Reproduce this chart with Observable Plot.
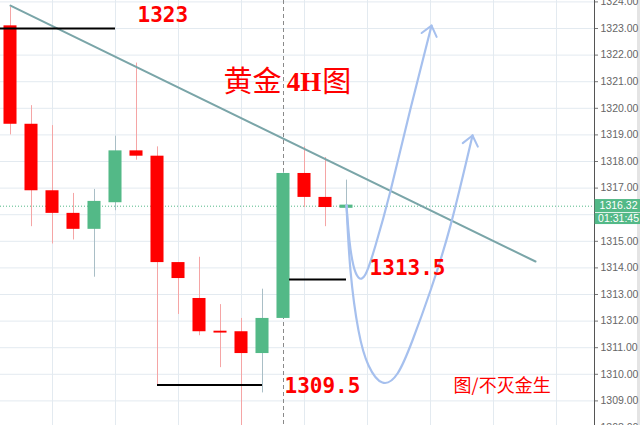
<!DOCTYPE html>
<html><head><meta charset="utf-8">
<script src="https://cdn.jsdelivr.net/npm/d3@7"></script>
<script src="https://cdn.jsdelivr.net/npm/@observablehq/plot@0.6"></script>
<style>
html,body{margin:0;padding:0;background:#fff;}
#wrap{position:relative;width:640px;height:425px;overflow:hidden;}
#edge{position:absolute;left:637px;top:0;width:3px;height:425px;background:#e4e4e4;z-index:0;}
#wrap svg{position:relative;z-index:1;background:transparent;}
</style></head><body><div id="wrap"><div id="edge"></div></div>
<script>
// ---- data ----
const bar   = [0,1,2,3,4,5,6,7,8,9,10,11,12,13,14,15,16];
const open  = [1323.1,1319.4,1316.9,1316.05,1315.45,1316.45,1318.4,1318.2,1314.2,1312.85,1311.62,1311.6,1310.78,1312.1,1317.55,1316.65,1316.24];
const high  = [1323.8,1320.1,1319.35,1316.8,1316.95,1318.95,1321.7,1318.55,1314.2,1314.4,1312.62,1312.1,1313.2,1317.6,1318.55,1318.15,1317.3];
const low   = [1319.0,1315.55,1314.9,1315.05,1313.65,1316.15,1318.05,1309.6,1312.25,1311.45,1310.25,1308.0,1309.3,1312.1,1316.27,1315.55,1316.24];
const close = [1319.4,1316.9,1316.05,1315.45,1316.5,1318.4,1318.2,1314.2,1313.6,1311.6,1311.55,1310.78,1312.1,1317.55,1316.65,1316.27,1316.36];
const yTicks = [1308,1309,1310,1311,1312,1313,1314,1315,1316,1317,1318,1319,1320,1321,1322,1323,1324];
const xGrid  = [2,5,8,11,14,17,20,23,26];
const lastPrice = 1316.32;
const timer = "01:31:45";
const crosshairBar = 13;
// trend line (bar, price)
const trendX = [0, 25];
const trendY = [1323.86, 1314.24];
// support / resistance levels
const levelY  = [1323.0, 1313.56, 1309.6];
const levelX1 = [-0.48, 13.29, 7.0];
const levelX2 = [5.0, 16.0, 12.0];
// projected paths (bar, price)
const pathAx = [16.0,16.14,16.33,16.57,16.9,17.38,18.1,19.05,20.05];
const pathAy = [1316.35,1315.03,1314.09,1313.64,1313.75,1314.84,1316.91,1319.99,1323.11];
const pathBx = [16.0,16.19,16.57,17.05,17.71,18.43,19.14,20.0,20.95,22.0];
const pathBy = [1316.35,1313.9,1311.65,1310.33,1309.69,1310.03,1311.27,1313.15,1315.59,1318.98];
// labels
const numLabels = ["1323", "1313.5", "1309.5"];
const numLabelX = [6.05, 17.1, 13.05];
const numLabelY = [1323.49, 1313.98, 1309.54];
const titleParts = ["黄金", "4H", "图"];
const titleX = [10.14, 13.15, 14.85];
const titleY = 1320.97;
const signText = "图/不灭金生";
const signX = 21.1, signY = 1309.54;

// ---- build ----
const W = 640, H = 425, mR = 46;
const xDomain = [-10/21, 584/21];
const yDomain = [1308.075, 1324.053];
const UP = "#53b987", DOWN = "#ff0000";
const candles = bar.map((b, k) => ({
  i: b, o: open[k], h: high[k], l: low[k], c: close[k],
  body: close[k] >= open[k] ? UP : DOWN,
  wick: close[k] >= open[k] ? "#a9bec6" : "#f5a5a5"
}));
const trend = trendX.map((x, k) => ({x, y: trendY[k]}));
const levels = levelY.map((y, k) => ({y, x1: levelX1[k], x2: levelX2[k]}));
const pathA = pathAx.map((x, k) => ({x, y: pathAy[k]}));
const pathB = pathBx.map((x, k) => ({x, y: pathBy[k]}));
const nums = numLabels.map((t, k) => ({t, x: numLabelX[k], y: numLabelY[k]}));
const xEnd = xDomain[1], xOut = xDomain[1] + mR / 21;
const boxes = [
  {y1: lastPrice - 0.24, y2: lastPrice + 0.25, t: lastPrice.toFixed(2)},
  {y1: lastPrice - 0.69, y2: lastPrice - 0.27, t: timer}
];
// the 1316.00 label sits under the price boxes, as in the reference
const axisTicks = yTicks.filter(t => t < lastPrice - 0.69 || t > lastPrice + 0.25);

const plot = Plot.plot({
  width: W, height: H,
  marginLeft: 0, marginRight: mR, marginTop: 0, marginBottom: 0,
  x: {domain: xDomain, axis: null},
  y: {domain: yDomain, axis: null},
  color: {type: "identity"},
  style: {background: "transparent", overflow: "visible"},
  marks: [
    Plot.gridY(yTicks, {stroke: "#e3eaf0", strokeOpacity: 1}),
    Plot.gridX(xGrid, {stroke: "#e3eaf0", strokeOpacity: 1}),
    Plot.ruleX([crosshairBar], {stroke: "#8a8a8a", strokeDasharray: "4,3", strokeWidth: 1}),
    Plot.ruleY([lastPrice], {stroke: UP, strokeDasharray: "1,2", strokeWidth: 1}),
    Plot.ruleX(candles, {x: "i", y1: "l", y2: "h", stroke: "wick", strokeWidth: 1}),
    Plot.rect(candles, {x1: d => d.i - 0.31, x2: d => d.i + 0.31, y1: "o", y2: "c", fill: "body"}),
    Plot.line(trend, {x: "x", y: "y", stroke: "#7aa5a8", strokeWidth: 2}),
    Plot.line(pathA, {x: "x", y: "y", curve: "natural", stroke: "#a6c0ee", strokeWidth: 2.2, markerEnd: "arrow"}),
    Plot.line(pathB, {x: "x", y: "y", curve: "natural", stroke: "#a6c0ee", strokeWidth: 2.2, markerEnd: "arrow"}),
    Plot.ruleY(levels, {y: "y", x1: "x1", x2: "x2", stroke: "#000", strokeWidth: 2}),
    Plot.text(nums, {x: "x", y: "y", text: "t", textAnchor: "start", lineAnchor: "middle",
      fill: "#ff0000", fontSize: 21, fontWeight: "bold", fontFamily: "DejaVu Sans Mono"}),
    Plot.text([titleParts[0]], {x: titleX[0], y: titleY, text: d => d, textAnchor: "start", lineAnchor: "middle",
      fill: "#ff0000", fontSize: 29, fontFamily: "Noto Sans CJK SC"}),
    Plot.text([titleParts[1]], {x: titleX[1], y: titleY, text: d => d, textAnchor: "start", lineAnchor: "middle",
      fill: "#ff0000", fontSize: 27, fontWeight: "bold", fontFamily: "Liberation Serif"}),
    Plot.text([titleParts[2]], {x: titleX[2], y: titleY, text: d => d, textAnchor: "start", lineAnchor: "middle",
      fill: "#ff0000", fontSize: 29, fontFamily: "Noto Sans CJK SC"}),
    Plot.text([signText], {x: signX, y: signY, text: d => d, textAnchor: "start", lineAnchor: "middle",
      fill: "#ff0000", fontSize: 18, fontFamily: "Noto Sans CJK SC"}),
    Plot.ruleX([xEnd], {stroke: "#555", strokeWidth: 1}),
    Plot.axisY(axisTicks, {anchor: "right", tickSize: 3, tickPadding: 3, tickFormat: d => d.toFixed(2),
      stroke: "#777", fill: "#666", fontSize: 10.5, fontFamily: "Liberation Sans"}),
    Plot.rect(boxes, {x1: xEnd + 0.03, x2: xOut, y1: "y1", y2: "y2", fill: UP}),
    Plot.text(boxes, {x: (xEnd + xOut) / 2 + 0.05, y: d => (d.y1 + d.y2) / 2, text: "t", fill: "#fff",
      fontSize: 10.5, fontFamily: "Liberation Sans"})
  ]
});
// enlarge arrowheads to match hand-drawn arrows
plot.querySelectorAll("marker").forEach(m => {
  m.setAttribute("markerWidth", 11);
  m.setAttribute("markerHeight", 11);
  m.setAttribute("stroke-width", 0.85);
  const p = m.querySelector("path");
  if (p) p.setAttribute("d", "M-4,-3.2L0,0L-4,3.2");
});
document.getElementById("wrap").appendChild(plot);
</script></body></html>
